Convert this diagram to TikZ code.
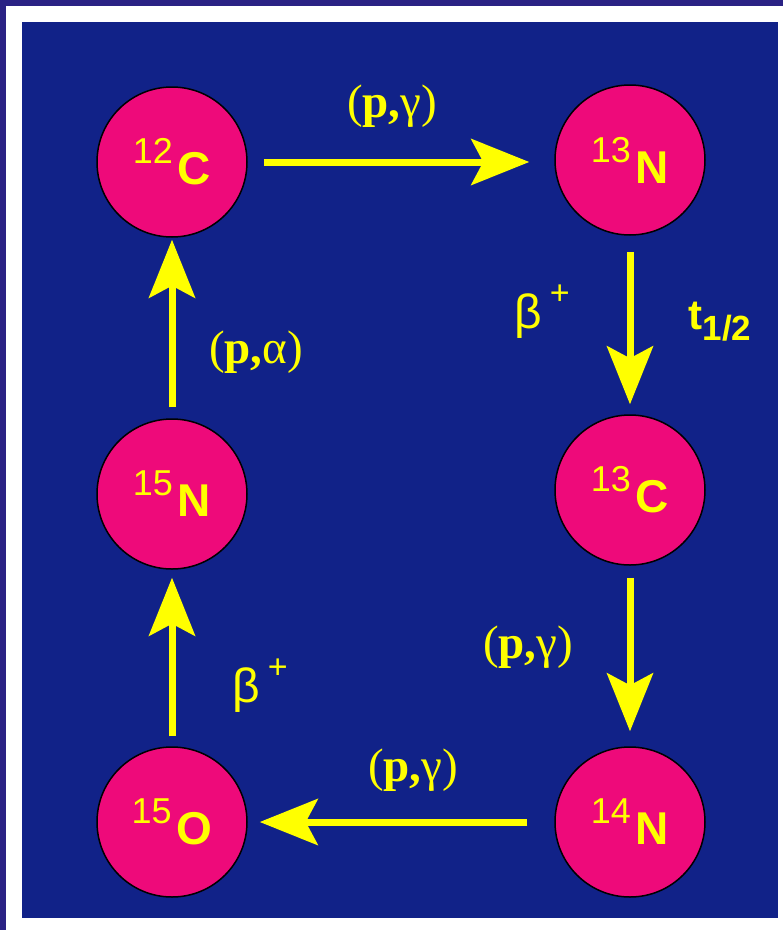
\documentclass[tikz,border=0pt]{standalone}
\usepackage{fontspec}
\setmainfont{Liberation Serif}
\setsansfont{Liberation Sans}
\usetikzlibrary{arrows.meta}
\definecolor{panelblue}{RGB}{17,34,136}
\definecolor{edgepurple}{RGB}{42,34,132}
\definecolor{nucpink}{RGB}{238,10,122}
\definecolor{cnoyellow}{RGB}{255,255,0}
\newcommand{\iso}[2]{\raisebox{21pt}{\mdseries\fontsize{36}{40}\selectfont #1}\kern5pt#2}
\newcommand{\bplus}{β\kern8pt\raisebox{24pt}{\fontsize{34}{36}\selectfont +}}

\begin{document}
\begin{tikzpicture}[x=1pt,y=-1pt,
  nuc/.style={circle,draw=black,line width=1.5pt,fill=nucpink,minimum size=150pt,
    inner sep=0pt,text=cnoyellow,font=\sffamily\bfseries\fontsize{46}{50}\selectfont},
  reac/.style={text=cnoyellow,inner sep=0pt,font=\rmfamily\fontsize{47}{50}\selectfont},
  decay/.style={text=cnoyellow,inner sep=0pt,font=\sffamily\fontsize{48}{50}\selectfont},
  flow/.style={draw=cnoyellow,line width=7pt,-{Stealth[length=58pt,width=46pt,inset=12pt]}}]
% frame and panel
\fill[white] (0,0) rectangle (783,930);
\fill[edgepurple] (0,0) rectangle (783,6);
\fill[edgepurple] (0,0) rectangle (6,930);
\fill[panelblue] (22,22) rectangle (778,918);

% nuclei
\node[nuc] (c12) at (172,162) {\iso{12}{C}};
\node[nuc] (n13) at (630,160) {\iso{13}{N}};
\node[nuc] (c13) at (630,490) {\iso{13}{C}};
\node[nuc] (n14) at (630,822) {\iso{14}{N}};
\node[nuc] (o15) at (172,822) {\iso{15}{O}};
\node[nuc] (n15) at (172,494) {\iso{15}{N}};

% cycle arrows
\draw[flow,shorten <=16pt,shorten >=25pt] (c12.east) -- (c12.east -| n13.west);
\draw[flow,shorten <=16pt,shorten >=10pt] (n13.south) -- (c13.north);
\draw[flow,shorten <=12pt,shorten >=15pt] (c13.south) -- (n14.north);
\draw[flow,shorten <=27pt,shorten >=12pt] (n14.west) -- (o15.east);
\draw[flow,shorten <=10pt,shorten >=8pt] (o15.north) -- (n15.south);
\draw[flow,shorten <=11pt,shorten >=2pt] (n15.north) -- (c12.south);

% reaction labels
\node[reac] (pgtop) at (392,106) {(\textbf{p,}γ)};
\node[decay] (btop) at (542,312) {\bplus};
\node[decay,font=\sffamily\bfseries\fontsize{42}{44}\selectfont] (thalf) at (720,322)
  {t\raisebox{-11pt}{\fontsize{35}{36}\selectfont 1/2}};
\node[reac] (pa) at (256,352) {(\textbf{p,}α)};
\node[reac] (pgright) at (528,647) {(\textbf{p,}γ)};
\node[decay] (bleft) at (260,686) {\bplus};
\node[reac] (pgbot) at (413,770) {(\textbf{p,}γ)};
\end{tikzpicture}
\end{document}
